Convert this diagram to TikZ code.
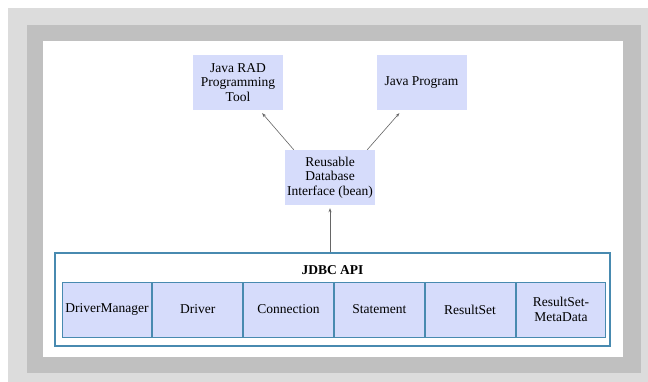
\documentclass[tikz,border=0pt]{standalone}
\usepackage{fontspec}
\setmainfont{LiberationSerif}[Extension=.ttf, UprightFont=*-Regular, BoldFont=*-Bold]
\usepackage{xcolor}
\usetikzlibrary{positioning,arrows.meta,calc}

\definecolor{boxfill}{RGB}{214,220,251}
\definecolor{apiline}{RGB}{72,138,176}
\definecolor{frameouter}{RGB}{220,220,220}
\definecolor{frameinner}{RGB}{192,192,192}

\begin{document}
\begin{tikzpicture}[
  x=1pt, y=-1pt,
  every node/.style={font=\fontsize{13.5}{14.5}\selectfont},
  % light blue boxes of the upper part
  box/.style={
    fill=boxfill,
    align=center,
    minimum width=90pt,
    minimum height=55pt,
    inner sep=2pt
  },
  apibox/.style={
    draw=apiline,
    line width=1.2pt,
    fill=white,
    minimum width=555pt,
    minimum height=93pt,
    inner sep=0pt
  },
  cell/.style={
    draw=apiline,
    line width=1pt,
    fill=boxfill,
    align=center,
    minimum width=89.8pt,
    minimum height=55pt,
    inner sep=1pt
  },
  arr/.style={-{Stealth[length=4pt,width=3pt]}, line width=0.6pt, draw=black!60}
]

% frame: light band, darker band, white panel
\useasboundingbox (0,0) rectangle (648,382);
\fill[frameouter] (8,8) rectangle (648,382);
\fill[frameinner] (27,25) rectangle (641,373);
\fill[white] (43,41) rectangle (623,357);

\node[box] (rad) at (238,82.5) {Java RAD\\Programming\\Tool};
\node[box] (prog) at (421.5,82.5) {Java Program};
\node[box] (reuse) at (330,177.5) {Reusable\\Database\\Interface (bean)};

\node[apibox] (api) at (332.5,299.5) {};
\node[font=\fontsize{13.5}{14.5}\selectfont\bfseries] (apititle) at (332.5,270) {JDBC API};

% six cells in one row
\node[cell] (drvman) at (106.9,309.5) {DriverManager};
\node[cell, right=0pt of drvman] (drv) {Driver};
\node[cell, right=0pt of drv] (conn) {Connection};
\node[cell, right=0pt of conn] (stmt) {Statement};
\node[cell, right=0pt of stmt] (rset) {ResultSet};
\node[cell, right=0pt of rset] (rsmeta) {ResultSet-\\MetaData};

% connectors
\draw[arr] ([xshift=9pt]reuse.north west) -- ([xshift=-21pt,yshift=-3pt]rad.south east);
\draw[arr] ([xshift=-8pt]reuse.north east) -- ([xshift=23pt,yshift=-3pt]prog.south west);
\draw[arr] (reuse.south |- api.north) -- ([yshift=-3pt]reuse.south);

\end{tikzpicture}
\end{document}
